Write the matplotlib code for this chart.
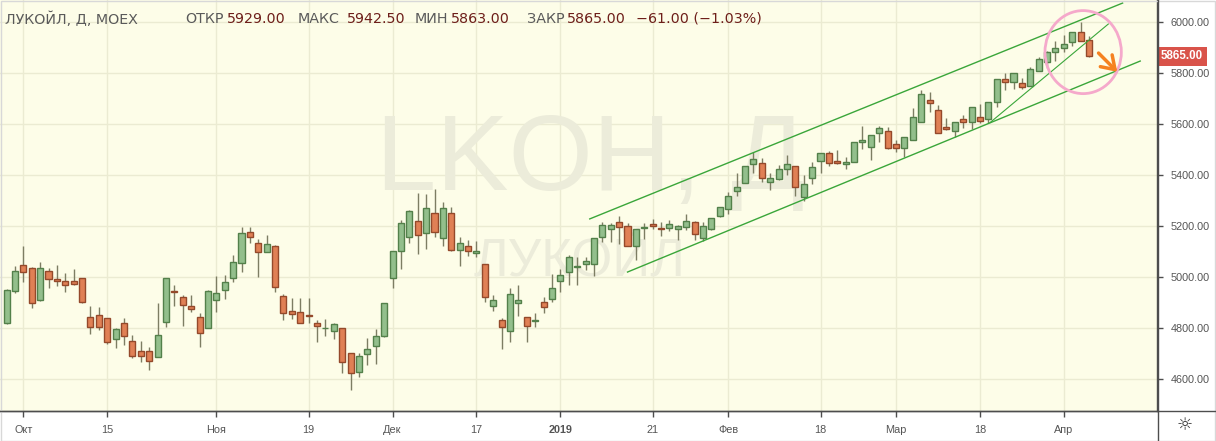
import numpy as np
import matplotlib
matplotlib.use("Agg")
import matplotlib.pyplot as plt
from matplotlib.patches import Ellipse, FancyArrowPatch, Rectangle
from matplotlib.lines import Line2D
from matplotlib.transforms import blended_transform_factory

# ---------------- data ----------------
# candle index: 0 = 1 Oct 2018 (trading days)
opens = [4822, 4945, 5048, 5035, 4911, 5026, 4992, 4984, 4984, 4996,
         4843, 4851, 4839, 4757, 4819, 4750, 4711, 4711, 4689, 4826,
         4945, 4921, 4886, 4843, 4800, 4911, 4950, 4998, 5054, 5178,
         5135, 5100, 5122, 4926, 4868, 4863, 4852, 4819, 4799, 4791,
         4800, 4702, 4630, 4699, 4731, 4771, 4996, 5103, 5156, 5221,
         5172, 5250, 5152, 5250, 5106, 5120, 5096, 5050, 4889, 4833,
         4791, 4900, 4843, 4830, 4902, 4913, 4983, 5022, 5038, 5050,
         5050, 5156, 5187, 5215, 5200, 5122, 5193, 5208, 5189, 5191,
         5187, 5198, 5215, 5152, 5187, 5241, 5267, 5337, 5367, 5442,
         5446, 5371, 5384, 5422, 5437, 5313, 5390, 5456, 5485, 5456,
         5442, 5452, 5530, 5511, 5563, 5574, 5520, 5504, 5537, 5606,
         5694, 5654, 5589, 5574, 5619, 5609, 5628, 5618, 5684, 5774,
         5763, 5761, 5750, 5808, 5844, 5883, 5896, 5922, 5961, 5929]
highs = [4952, 5044, 5120, 5039, 5060, 5035, 5048, 5015, 5031, 4996,
         4887, 4882, 4839, 4800, 4839, 4774, 4750, 4728, 4900, 4996,
         4969, 4930, 4930, 4859, 4950, 5005, 5009, 5087, 5195, 5195,
         5150, 5165, 5126, 4933, 4917, 4920, 4917, 4833, 4835, 4819,
         4800, 4702, 4702, 4761, 4796, 4900, 5103, 5224, 5263, 5328,
         5326, 5344, 5296, 5273, 5156, 5146, 5142, 5050, 4930, 4842,
         4956, 4969, 4843, 4859, 4924, 5011, 5030, 5087, 5080, 5080,
         5152, 5216, 5213, 5240, 5211, 5189, 5211, 5229, 5215, 5224,
         5204, 5247, 5220, 5217, 5230, 5273, 5332, 5409, 5437, 5491,
         5465, 5407, 5439, 5478, 5437, 5400, 5452, 5487, 5495, 5498,
         5472, 5528, 5592, 5557, 5592, 5589, 5537, 5550, 5664, 5733,
         5726, 5674, 5622, 5609, 5635, 5665, 5678, 5684, 5774, 5798,
         5801, 5778, 5824, 5863, 5887, 5926, 5948, 5961, 6000, 5942.5]
lows = [4817, 4937, 4982, 4881, 4907, 4959, 4966, 4943, 4970, 4900,
        4776, 4793, 4737, 4724, 4735, 4685, 4669, 4637, 4689, 4803,
        4887, 4809, 4865, 4728, 4800, 4865, 4913, 4980, 5022, 5135,
        5002, 5100, 4943, 4833, 4835, 4819, 4822, 4748, 4770, 4758,
        4626, 4559, 4611, 4656, 4660, 4767, 4956, 5031, 5133, 5091,
        5109, 5156, 5120, 5104, 5045, 5084, 5078, 4904, 4868, 4719,
        4745, 4846, 4748, 4806, 4861, 4904, 4940, 4970, 4970, 5028,
        5006, 5139, 5139, 5130, 5120, 5067, 5148, 5187, 5161, 5182,
        5146, 5185, 5146, 5142, 5185, 5234, 5247, 5319, 5367, 5409,
        5374, 5341, 5381, 5400, 5318, 5300, 5365, 5409, 5435, 5443,
        5422, 5452, 5502, 5459, 5530, 5502, 5491, 5472, 5537, 5606,
        5648, 5563, 5576, 5550, 5583, 5580, 5602, 5605, 5667, 5733,
        5735, 5735, 5750, 5808, 5818, 5847, 5883, 5905, 5931, 5863]
closes = [4950, 5023, 5019, 4898, 5035, 4992, 4986, 4968, 4972, 4902,
          4804, 4806, 4748, 4796, 4771, 4693, 4693, 4673, 4772, 4996,
          4941, 4890, 4874, 4780, 4946, 4937, 4980, 5058, 5174, 5159,
          5097, 5129, 4960, 4859, 4855, 4822, 4846, 4810, 4800, 4816,
          4669, 4624, 4692, 4718, 4769, 4898, 5103, 5211, 5260, 5165,
          5270, 5176, 5270, 5106, 5133, 5103, 5103, 4924, 4911, 4806,
          4933, 4911, 4810, 4831, 4885, 4956, 5008, 5078, 5043, 5063,
          5152, 5203, 5203, 5195, 5122, 5189, 5195, 5202, 5188, 5207,
          5200, 5220, 5168, 5200, 5230, 5273, 5319, 5352, 5437, 5461,
          5387, 5387, 5422, 5443, 5352, 5365, 5430, 5485, 5446, 5446,
          5450, 5528, 5537, 5557, 5583, 5504, 5504, 5547, 5626, 5716,
          5681, 5563, 5579, 5609, 5609, 5665, 5613, 5684, 5774, 5763,
          5798, 5743, 5814, 5853, 5883, 5896, 5911, 5961, 5926, 5865]
first_index = -2  # 27 Sep 2018

tick_pos = [0, 10, 23, 34, 44, 54, 64, 75, 84, 95, 104, 114, 124]
tick_labels = ["Окт", "15", "Ноя", "19", "Дек", "17", "2019", "21",
               "Фев", "18", "Мар", "18", "Апр"]
price_ticks = [4600, 4800, 5000, 5200, 5400, 5600, 5800, 6000]

# channel lines (index, price)
upper_line = ([67.5, 131.0], [5228, 6073])
lower_line = ([72.0, 133.1], [5020, 5846])
inner_line = ([115.2, 129.3], [5605, 5991])
circle_center = (126.3, 5881)
circle_size = (9.1, 325)
arrow_from = (127.9, 5885)
arrow_to = (130.6, 5796)

last_price = 5865.00
header = [("ОТКР", "5929.00"), ("МАКС", "5942.50"), ("МИН", "5863.00"), ("ЗАКР", "5865.00")]
change_text = "−61.00 (−1.03%)"

# ---------------- styling ----------------
BG = "#fdfde8"
GRID = "#ebebd2"
UP_FILL, UP_EDGE = "#93bf8c", "#53804a"
DN_FILL, DN_EDGE = "#e08055", "#94492b"
WICK = "#7d7d63"
AX = "#4d4d4d"
TXT = "#555555"

W, H = 1216, 441
fig = plt.figure(figsize=(W / 100, H / 100), dpi=100)
fig.patch.set_facecolor("white")
ax = fig.add_axes([0, 30 / H, 1157 / W, 411 / H])
ax.set_facecolor(BG)

n = len(opens)
x = np.arange(n) + first_index
o = np.array(opens, float); c = np.array(closes, float)
h = np.array(highs, float); l = np.array(lows, float)
up = c >= o

ax.vlines(x, l, h, color=WICK, linewidth=1.0, zorder=2)
bottom = np.minimum(o, c)
height = np.maximum(np.abs(c - o), 3)
ax.bar(x[up], height[up], bottom=bottom[up], width=0.72,
       color=UP_FILL, edgecolor=UP_EDGE, linewidth=1.0, zorder=3)
ax.bar(x[~up], height[~up], bottom=bottom[~up], width=0.72,
       color=DN_FILL, edgecolor=DN_EDGE, linewidth=1.0, zorder=3)

# channel
lc = "#3aa63a"
ax.plot(*upper_line, color=lc, lw=1.0, zorder=4)
ax.plot(*lower_line, color=lc, lw=1.0, zorder=4)
ax.plot(*inner_line, color=lc, lw=0.8, zorder=4)
ax.add_patch(Ellipse(circle_center, circle_size[0], circle_size[1],
                     fill=False, edgecolor="#f5a9cb", lw=2.0, zorder=5))
ax.add_patch(FancyArrowPatch(arrow_from, arrow_to, arrowstyle="->,head_length=6,head_width=4",
                             color="#f58220", lw=2.5, mutation_scale=1.5, zorder=6))

# watermark
ax.text(0.51, 0.606, "LKOH, Д", transform=ax.transAxes, ha="center", va="center",
        fontsize=78, color="#ececda", family="Liberation Sans", zorder=1)
ax.text(0.501, 0.362, "ЛУКОЙЛ", transform=ax.transAxes, ha="center", va="center",
        fontsize=38, color="#ececda", family="Liberation Sans", zorder=1)

ax.set_xlim(-2.78, 135.1)
ax.set_ylim(4476, 6085)

ax.set_xticks(tick_pos)
ax.set_xticklabels(tick_labels)
for lab in ax.get_xticklabels():
    if lab.get_text() == "2019":
        lab.set_fontweight("bold")
ax.set_yticks(price_ticks)
ax.set_yticklabels([f"{v:.2f}" for v in price_ticks])
ax.yaxis.tick_right()
ax.tick_params(axis="both", colors=AX, labelcolor=TXT, length=4, width=1,
               labelsize=7.8)
ax.tick_params(axis="x", pad=6)
ax.tick_params(axis="y", pad=6)
for lab in ax.get_xticklabels() + ax.get_yticklabels():
    lab.set_family("Liberation Sans")
ax.grid(True, color=GRID, lw=1.0, zorder=0)
ax.set_axisbelow(True)
for s in ["top", "left"]:
    ax.spines[s].set_visible(False)
for s in ["bottom", "right"]:
    ax.spines[s].set_color(AX)
    ax.spines[s].set_linewidth(1.0)

# extended axis lines
fig.add_artist(Line2D([1157.5 / W, 1157.5 / W], [0, 1], color=AX, lw=1.0))
fig.add_artist(Line2D([0, 1], [30 / H, 30 / H], color=AX, lw=1.0))
fig.add_artist(Rectangle((0.5 / W, 0.5 / H), 1 - 1.5 / W, 1 - 1.5 / H, fill=False,
                         edgecolor="#d8d8d8", lw=1.0, transform=fig.transFigure))

# last price box
tr = blended_transform_factory(ax.transAxes, ax.transData)
ax.text(1.0 + 4 / 1157, last_price, f"{last_price:.2f}", transform=tr, ha="left", va="center",
        fontsize=8.3, color="white", fontweight="bold", family="Liberation Sans",
        bbox=dict(boxstyle="square,pad=0.3", fc="#d9534a", ec="none"), clip_on=False, zorder=10)

# gear
fig.text(1185 / W, 1 - 425 / H, "☼", ha="center", va="center", fontsize=13, color="#333333",
         family="DejaVu Sans")

# header
HDR = "#5a5a5a"
VAL = "#6e1f1a"
def ft(px, s, color, size=10.3):
    fig.text(px / W, 1 - 19 / H, s, ha="left", va="center", fontsize=size, color=color,
             family="DejaVu Sans")

ft(5, "ЛУКОЙЛ, Д, МОЕХ", HDR)
label_x = [185, 298, 415, 527]
value_x = [227, 347, 451, 567]
for (lab, val), lx, vx in zip(header, label_x, value_x):
    ft(lx, lab, HDR)
    ft(vx, val, VAL)
ft(636, change_text, VAL)

fig.savefig("out.png", dpi=100, facecolor="white")
